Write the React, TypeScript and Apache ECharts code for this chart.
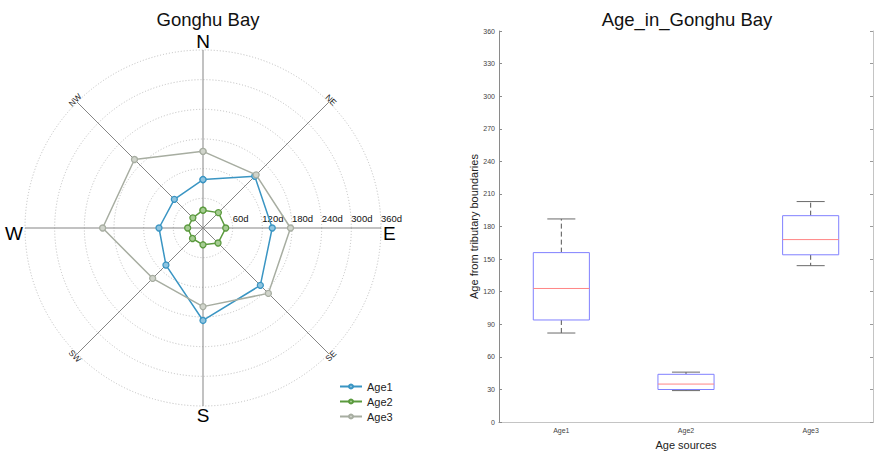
import React, { useEffect, useRef } from "react";
import * as echarts from "echarts";

// ---- Radar (polar) data ----
const directions = ["N", "NE", "E", "SE", "S", "SW", "W", "NW"];
const age1 = [98, 148, 140, 164, 187, 106, 89, 82];
const age2 = [36, 44, 46, 43, 34, 30, 31, 29];
const age3 = [155, 152, 177, 187, 159, 144, 203, 196];
const seriesNames = ["Age1", "Age2", "Age3"];
const radiusMax = 360;
const radiusStep = 60;

// ---- Boxplot data ----
const boxCategories = ["Age1", "Age2", "Age3"];
const boxMin = [82, 29, 144];
const boxQ1 = [94, 30, 154];
const boxMedian = [123, 35, 168];
const boxQ3 = [156, 44, 190];
const boxMax = [187, 46, 203];
const yMax = 360;
const yStep = 30;

const FONT = "'Liberation Sans', Arial, sans-serif";
const colors = ["#3a95c3", "#5b9a3e", "#a7ada1"];
const fills = ["#8fc4df", "#a5cc92", "#d0d4cb"];

const CX = 203;
const CY = 228;
const R = 178;

function dirAngle(i: number) {
  return (90 - i * 45 + 360) % 360;
}

function polarData(vals: number[]) {
  const pts = vals.map((v, i) => [v, dirAngle(i)]);
  pts.push([vals[0], dirAngle(0)]);
  return pts;
}

const mainLabels: Record<number, string> = { 0: "{ew|E}", 90: "{ns|N}", 180: "{ew|W}", 270: "{ns|S}" };

export default function App() {
  const ref = useRef<HTMLDivElement>(null);
  useEffect(() => {
    document.body.style.margin = "0";
    const chart = echarts.init(ref.current!, null, { renderer: "svg" });

    const diagGraphics = directions
      .map((d, i) => ({ d, i }))
      .filter(({ i }) => i % 2 === 1)
      .map(({ d, i }) => {
        const a = (dirAngle(i) * Math.PI) / 180;
        const rr = R + 3;
        let rotation = a - Math.PI / 2;
        if (rotation > Math.PI / 2) rotation -= Math.PI;
        if (rotation < -Math.PI / 2) rotation += Math.PI;
        return {
          type: "text",
          x: CX + rr * Math.cos(a),
          y: CY - rr * Math.sin(a),
          rotation,
          style: {
            text: d,
            fontSize: 8.5,
            fontFamily: FONT,
            fill: "#222",
            align: "center",
            verticalAlign: "middle",
          },
        };
      });

    const option: any = {
      animation: false,
      textStyle: { fontFamily: FONT },
      title: [
        {
          text: "Gonghu Bay",
          left: CX,
          textAlign: "center",
          top: 5,
          textStyle: { fontSize: 18.5, fontWeight: "normal", color: "#111", fontFamily: FONT },
        },
        {
          text: "Age_in_Gonghu Bay",
          left: 682,
          textAlign: "center",
          top: 5,
          textStyle: { fontSize: 18.5, fontWeight: "normal", color: "#111", fontFamily: FONT },
        },
      ],
      polar: { center: [CX, CY], radius: R },
      angleAxis: {
        type: "value",
        min: 0,
        max: 360,
        interval: 45,
        startAngle: 0,
        clockwise: false,
        axisLine: { show: false },
        axisTick: { show: false },
        axisLabel: {
          margin: 2,
          color: "#000",
          formatter: (v: number) => (v === 360 ? "" : mainLabels[v] || ""),
          rich: {
            ns: { fontSize: 19, lineHeight: 14, color: "#000", fontFamily: FONT },
            ew: { fontSize: 19, lineHeight: 13, padding: [10, 0, 0, 0], color: "#000", fontFamily: FONT },
          },
        },
        splitLine: { show: true, lineStyle: { color: "#858585", width: 1 } },
      },
      radiusAxis: {
        type: "value",
        min: 0,
        max: radiusMax,
        interval: radiusStep,
        axisLine: { show: false },
        axisTick: { show: false },
        axisLabel: {
          fontSize: 9.5,
          color: "#111",
          align: "left",
          verticalAlign: "bottom",
          margin: 5,
          formatter: (v: number) => (v === 0 ? "" : v + "d"),
        },
        splitLine: { show: true, lineStyle: { color: "#bdbdbd", type: [1, 2], width: 1 } },
      },
      legend: {
        data: seriesNames,
        orient: "vertical",
        left: 334,
        top: 376,
        itemWidth: 22,
        itemHeight: 5,
        itemGap: 4,
        textStyle: { fontSize: 11, color: "#222", fontFamily: FONT },
      },
      grid: { left: 499, right: 1, top: 31, bottom: 29, containLabel: false },
      xAxis: [
        {
          type: "category",
          data: boxCategories,
          position: "bottom",
          axisLine: { lineStyle: { color: "#8a8a8a" } },
          axisTick: { inside: true, length: 3, alignWithLabel: true, lineStyle: { color: "#8a8a8a" } },
          axisLabel: { fontSize: 7, color: "#444", margin: 5 },
          name: "Age sources",
          nameLocation: "middle",
          nameGap: 14,
          nameTextStyle: { fontSize: 11, color: "#222" },
        },
        {
          type: "category",
          data: boxCategories,
          position: "top",
          axisLine: { lineStyle: { color: "#c4c4c4" } },
          axisTick: { inside: true, length: 3, alignWithLabel: true, lineStyle: { color: "#9a9a9a" } },
          axisLabel: { show: false },
        },
      ],
      yAxis: [
        {
          type: "value",
          min: 0,
          max: yMax,
          interval: yStep,
          position: "left",
          axisLine: { show: true, lineStyle: { color: "#8a8a8a" } },
          axisTick: { show: true, inside: true, length: 3, lineStyle: { color: "#8a8a8a" } },
          axisLabel: { fontSize: 7, color: "#444", margin: 4 },
          splitLine: { show: false },
          name: "Age from tributary boundaries",
          nameLocation: "middle",
          nameGap: 18,
          nameTextStyle: { fontSize: 11, color: "#222" },
        },
        {
          type: "value",
          min: 0,
          max: yMax,
          interval: yStep,
          position: "right",
          axisLine: { show: true, lineStyle: { color: "#c4c4c4" } },
          axisTick: { show: true, inside: true, length: 3, lineStyle: { color: "#9a9a9a" } },
          axisLabel: { show: false },
          splitLine: { show: false },
        },
      ],
      series: [
        ...[age1, age2, age3].map((vals, k) => ({
          name: seriesNames[k],
          type: "line",
          coordinateSystem: "polar",
          data: polarData(vals),
          symbol: "circle",
          symbolSize: 6,
          lineStyle: { color: colors[k], width: 1.5 },
          itemStyle: { color: fills[k], borderColor: colors[k], borderWidth: 1.3 },
          z: 3 + k,
        })),
        {
          type: "custom",
          xAxisIndex: 0,
          yAxisIndex: 0,
          data: boxCategories.map((_, i) => [i, boxMin[i], boxQ1[i], boxMedian[i], boxQ3[i], boxMax[i]]),
          encode: { x: 0, y: [1, 2, 3, 4, 5] },
          renderItem: (params: any, api: any) => {
            const idx = api.value(0);
            const bw = api.size([1, 0])[0] * 0.45;
            const pMin = api.coord([idx, api.value(1)]);
            const pQ1 = api.coord([idx, api.value(2)]);
            const pMed = api.coord([idx, api.value(3)]);
            const pQ3 = api.coord([idx, api.value(4)]);
            const pMax = api.coord([idx, api.value(5)]);
            const x = pMed[0];
            const capW = bw / 2;
            return {
              type: "group",
              children: [
                {
                  type: "line",
                  shape: { x1: x, y1: pQ3[1], x2: x, y2: pMax[1] },
                  style: { stroke: "#555", lineWidth: 1, lineDash: [5, 3] },
                },
                {
                  type: "line",
                  shape: { x1: x, y1: pQ1[1], x2: x, y2: pMin[1] },
                  style: { stroke: "#555", lineWidth: 1, lineDash: [5, 3] },
                },
                {
                  type: "line",
                  shape: { x1: x - capW / 2, y1: pMax[1], x2: x + capW / 2, y2: pMax[1] },
                  style: { stroke: "#6a6a6a", lineWidth: 1 },
                },
                {
                  type: "line",
                  shape: { x1: x - capW / 2, y1: pMin[1], x2: x + capW / 2, y2: pMin[1] },
                  style: { stroke: "#6a6a6a", lineWidth: 1 },
                },
                {
                  type: "rect",
                  shape: { x: x - bw / 2, y: pQ3[1], width: bw, height: pQ1[1] - pQ3[1] },
                  style: { stroke: "#8080ff", fill: "#ffffff", lineWidth: 1 },
                },
                {
                  type: "line",
                  shape: { x1: x - bw / 2, y1: pMed[1], x2: x + bw / 2, y2: pMed[1] },
                  style: { stroke: "#ff8585", lineWidth: 1 },
                },
              ],
            };
          },
          z: 2,
        },
      ],
      graphic: diagGraphics,
    };

    chart.setOption(option);
    return () => chart.dispose();
  }, []);

  return <div ref={ref} style={{ width: 874, height: 455 }} />;
}
